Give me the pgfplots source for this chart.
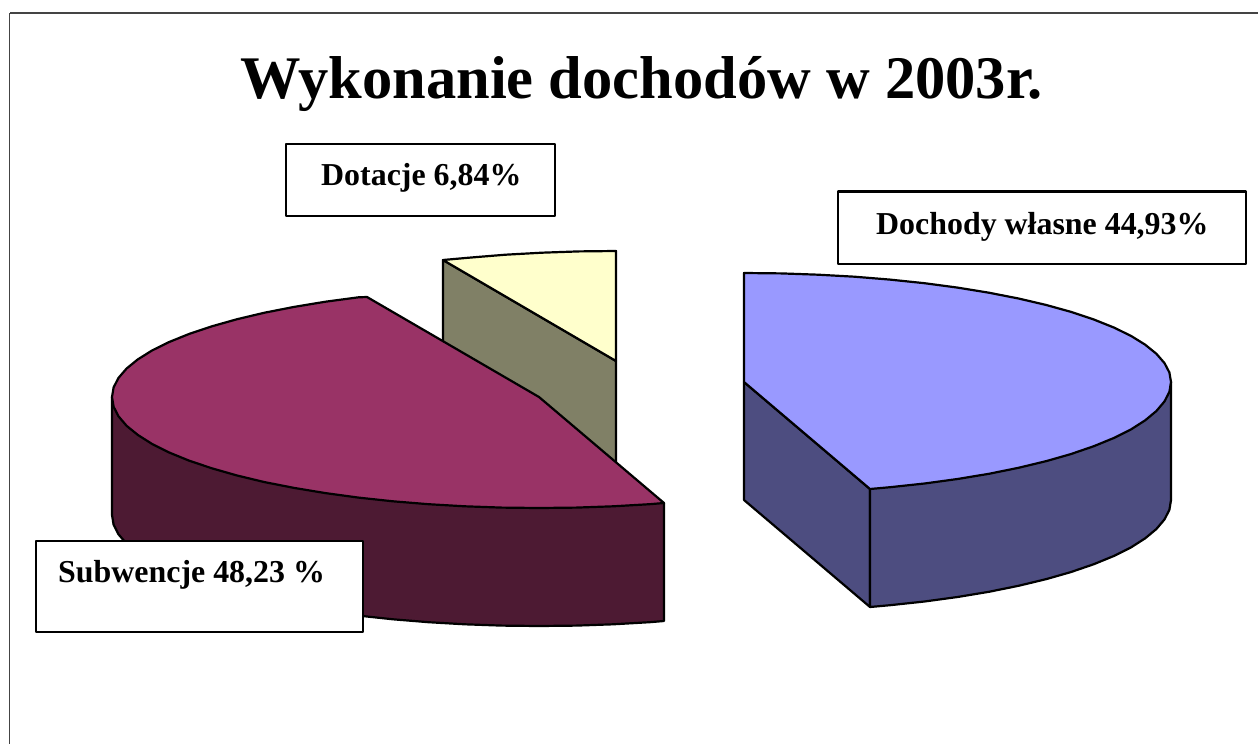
\documentclass[border=0pt]{standalone}
\usepackage{pgfplots}
\pgfplotsset{compat=1.18}
\usepackage{fontspec}
\setmainfont{Liberation Serif}
\definecolor{peri}{HTML}{9999FF}
\definecolor{periD}{HTML}{4D4D80}
\definecolor{maro}{HTML}{993366}
\definecolor{maroD}{HTML}{4D1A33}
\definecolor{yell}{HTML}{FFFFCC}
\definecolor{oliv}{HTML}{808066}
\definecolor{frameC}{HTML}{444444}
\begin{document}
\begin{tikzpicture}
\path[use as bounding box] (0,0) rectangle (1258pt,744pt);
\begin{axis}[at={(0,0)},anchor=south west,scale only axis,width=1258pt,height=744pt,xmin=0,xmax=1258,ymin=0,ymax=744,y dir=reverse,hide axis,
  every axis plot/.append style={line width=2.2pt,line join=round}]
% frame
\addplot[draw=frameC,line width=2.2pt] coordinates {(1258,13) (9.5,13)};
\addplot[draw=frameC,line width=1.5pt] coordinates {(9.5,13) (9.5,744)};
% Dotacje wedge
\addplot[fill=oliv,draw=black] coordinates {(443,260) (616,361) (616,479) (443,378)} --cycle;
\addplot[fill=yell,draw=black] coordinates {(443,260) (470,257.6) (505.5,254.7) (541.8,252.7) (578.8,251.4) (616,251) (616,361)} --cycle;
% Subwencje wedge
\addplot[fill=maroD,draw=black] coordinates {(112,397) (112,515) (113.6,524.7) (118.5,534.3) (126.6,543.8) (137.8,552.9) (152,561.9) (169.2,570.5) (189.2,578.7) (211.9,586.3) (237.1,593.5) (264.5,600.1) (294.1,605.9) (325.5,611.1) (358.5,615.6) (393,619.3) (428.5,622.2) (464.8,624.3) (501.8,625.6) (539,626) (576.2,625.6) (613.2,624.3) (649.5,622.2) (664,621) (664,503)} --cycle;
\addplot[fill=maro,draw=black] coordinates {(539,397) (367,297) (358.5,297.3) (325.5,301.7) (294.1,306.9) (264.5,312.7) (237.1,319.2) (211.9,326.3) (189.2,333.9) (169.2,342) (152,350.5) (137.8,359.4) (126.6,368.5) (118.5,377.9) (113.6,387.4) (112,397) (113.6,406.7) (118.5,416.3) (126.6,425.8) (137.8,434.9) (152,443.9) (169.2,452.5) (189.2,460.7) (211.9,468.3) (237.1,475.5) (264.5,482.1) (294.1,487.9) (325.5,493.1) (358.5,497.6) (393,501.3) (428.5,504.2) (464.8,506.3) (501.8,507.6) (539,508) (576.2,507.6) (613.2,506.3) (649.5,504.2) (664,503)} --cycle;
% Dochody wedge
\addplot[fill=periD,draw=black] coordinates {(744,382) (870,489) (870,607) (744,500)} --cycle;
\addplot[fill=periD,draw=black] coordinates {(870,489) (870,607) (890,605.2) (924.5,601.5) (957.5,597) (988.9,591.8) (1018.5,585.8) (1045.9,579.2) (1071.1,572) (1093.8,564.2) (1113.8,556) (1131,547.4) (1145.2,538.3) (1156.4,529) (1164.5,519.4) (1169.4,509.8) (1171,500) (1171,382)} --cycle;
\addplot[fill=peri,draw=black] coordinates {(744,382) (744,273) (781.2,273.4) (818.2,274.7) (854.5,276.7) (890,279.6) (924.5,283.2) (957.5,287.6) (988.9,292.7) (1018.5,298.5) (1045.9,304.9) (1071.1,311.9) (1093.8,319.5) (1113.8,327.5) (1131,335.9) (1145.2,344.7) (1156.4,353.8) (1164.5,363.1) (1169.4,372.5) (1171,382) (1169.4,391.8) (1164.5,401.4) (1156.4,411) (1145.2,420.3) (1131,429.4) (1113.8,438) (1093.8,446.2) (1071.1,454) (1045.9,461.2) (1018.5,467.8) (988.9,473.8) (957.5,479) (924.5,483.5) (890,487.2) (870,489)} --cycle;
% label boxes
\addplot[fill=white,draw=black] coordinates {(286,144) (555,144) (555,216) (286,216)} --cycle;
\addplot[fill=white,draw=black] coordinates {(838,191.5) (1246,191.5) (1246,264) (838,264)} --cycle;
\addplot[fill=white,draw=black] coordinates {(36,541) (363,541) (363,632) (36,632)} --cycle;
% texts
\node[anchor=base west,inner sep=0pt,font=\fontsize{60.5}{70}\selectfont\bfseries] at (axis cs:240,98) {Wykonanie dochodów w 2003r.};
\node[anchor=base west,inner sep=0pt,font=\fontsize{31.9}{38}\selectfont\bfseries] at (axis cs:321,185.5) {Dotacje 6,84\%};
\node[anchor=base west,inner sep=0pt,font=\fontsize{31.9}{38}\selectfont\bfseries] at (axis cs:876,234) {Dochody własne 44,93\%};
\node[anchor=base west,inner sep=0pt,font=\fontsize{31.9}{38}\selectfont\bfseries] at (axis cs:58,582.5) {Subwencje 48,23 \%};
\end{axis}
\end{tikzpicture}
\end{document}
